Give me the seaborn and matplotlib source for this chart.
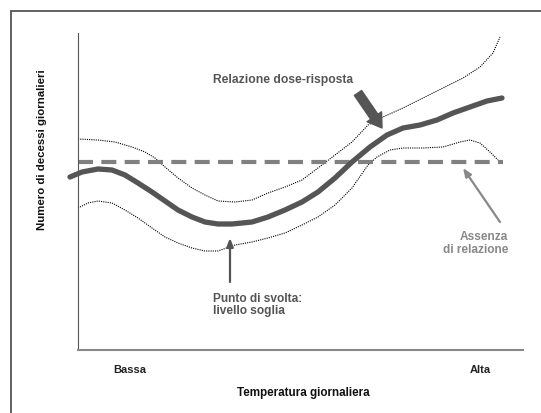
import matplotlib
matplotlib.use("Agg")
import matplotlib.pyplot as plt
import seaborn as sns
from matplotlib.lines import Line2D

sns.set_style("white")
plt.rcParams["font.family"] = ["Liberation Sans", "DejaVu Sans"]

# values (arbitrary units: temperature 0-445, deaths 0-317)
main_x = [-8, 4, 20, 34, 47, 60, 74, 87, 100, 114, 127, 140, 154, 174, 190, 207, 224, 240,
          257, 274, 292, 309, 325, 342, 359, 375, 392, 409, 424]
main_y = [173, 178, 181, 180, 175, 167, 158, 149, 140, 133, 128, 126, 126, 128, 133, 140, 148, 158,
          172, 188, 203, 215, 222, 225, 230, 237, 243, 249, 252]

upper_x = [0, 20, 37, 54, 67, 77, 87, 100, 114, 127, 140, 157, 174, 190, 207, 224, 240, 257,
           274, 290, 305, 325, 345, 365, 385, 402, 415, 422]
upper_y = [211, 210, 208, 203, 198, 192, 183, 172, 162, 155, 149, 148, 150, 157, 163, 170, 182, 195,
           208, 225, 233, 242, 252, 262, 272, 283, 297, 313]

lower_x = [0, 10, 20, 34, 47, 60, 74, 87, 100, 114, 127, 140, 157, 174, 190, 207, 224, 240,
           257, 274, 290, 299, 312, 325, 345, 365, 382, 392, 402, 412, 420]
lower_y = [142, 147, 149, 147, 140, 132, 122, 113, 107, 102, 99, 99, 105, 108, 112, 117, 125, 133,
           145, 162, 185, 193, 200, 202, 202, 203, 208, 210, 207, 198, 190]

flat_x = [0, 425]
flat_y = [188, 188]

fig = plt.figure(figsize=(5.41, 4.13), dpi=100)
ax = fig.add_axes([78 / 541, 63 / 413, 445 / 541, 317 / 413])

# outer frame (only left and top edges fall inside the image)
fig.add_artist(Line2D([11 / 541, 11 / 541], [0, 1 - 11 / 413], transform=fig.transFigure, color="#555555", lw=1.3))
fig.add_artist(Line2D([11 / 541, 1], [1 - 11 / 413, 1 - 11 / 413], transform=fig.transFigure, color="#555555", lw=1.3))

sns.lineplot(x=upper_x, y=upper_y, sort=False, ax=ax, color="black", lw=0.8, linestyle=(0, (1, 1)))
sns.lineplot(x=lower_x, y=lower_y, sort=False, ax=ax, color="black", lw=0.8, linestyle=(0, (1, 1)))
sns.lineplot(x=flat_x, y=flat_y, sort=False, ax=ax, color="#808080", lw=3, linestyle=(0, (3.6, 2.0)))
sns.lineplot(x=main_x, y=main_y, sort=False, ax=ax, color="#555555", lw=3.8)
for l in ax.lines:
    l.set_clip_on(False)
    l.set_solid_capstyle("round")
    l.set_solid_joinstyle("round")

ax.set_xlim(0, 445)
ax.set_ylim(0, 317)
ax.set_xticks([])
ax.set_yticks([])
sns.despine(ax=ax)
ax.spines["left"].set_color("#555555")
ax.spines["left"].set_linewidth(0.8)
ax.spines["bottom"].set_color("#888888")
ax.spines["bottom"].set_linewidth(1.5)

# annotations
ax.text(135, 270, "Relazione dose-risposta", fontsize=8.7, fontweight="bold", color="#555555", va="center", ha="left")
ax.annotate("", xy=(304, 222), xytext=(280, 257),
            arrowprops=dict(arrowstyle="simple,head_length=0.7,head_width=0.9,tail_width=0.45",
                            color="#555555", mutation_scale=14, shrinkA=0, shrinkB=0))

ax.text(135, 45, "Punto di svolta:\nlivello soglia", fontsize=8.6, fontweight="bold", color="#555555",
        va="center", ha="left", linespacing=1.05)
ax.annotate("", xy=(152, 112), xytext=(152, 68),
            arrowprops=dict(arrowstyle="-|>,head_length=0.5,head_width=0.2", color="#555555", lw=1.6,
                            shrinkA=0, shrinkB=0))

ax.text(430, 106.5, "Assenza\ndi relazione", fontsize=8.6, fontweight="bold", color="#888888",
        va="center", ha="right", multialignment="right", linespacing=1.05)
ax.annotate("", xy=(385, 182), xytext=(422, 128),
            arrowprops=dict(arrowstyle="-|>,head_length=0.5,head_width=0.2", color="#888888", lw=1.6,
                            shrinkA=0, shrinkB=0))

ax.text(52, -20, "Bassa", fontsize=8, fontweight="bold", color="#222222", ha="center", va="center")
ax.text(402, -20, "Alta", fontsize=8, fontweight="bold", color="#222222", ha="center", va="center")
ax.text(225.5, -43, "Temperatura giornaliera", fontsize=8.4, fontweight="bold", color="#111111", ha="center", va="center")
ax.text(-36, 200, "Numero di decessi giornalieri", fontsize=8.2, fontweight="bold", color="#111111",
        ha="center", va="center", rotation=90)

fig.savefig("out.png", dpi=100)
